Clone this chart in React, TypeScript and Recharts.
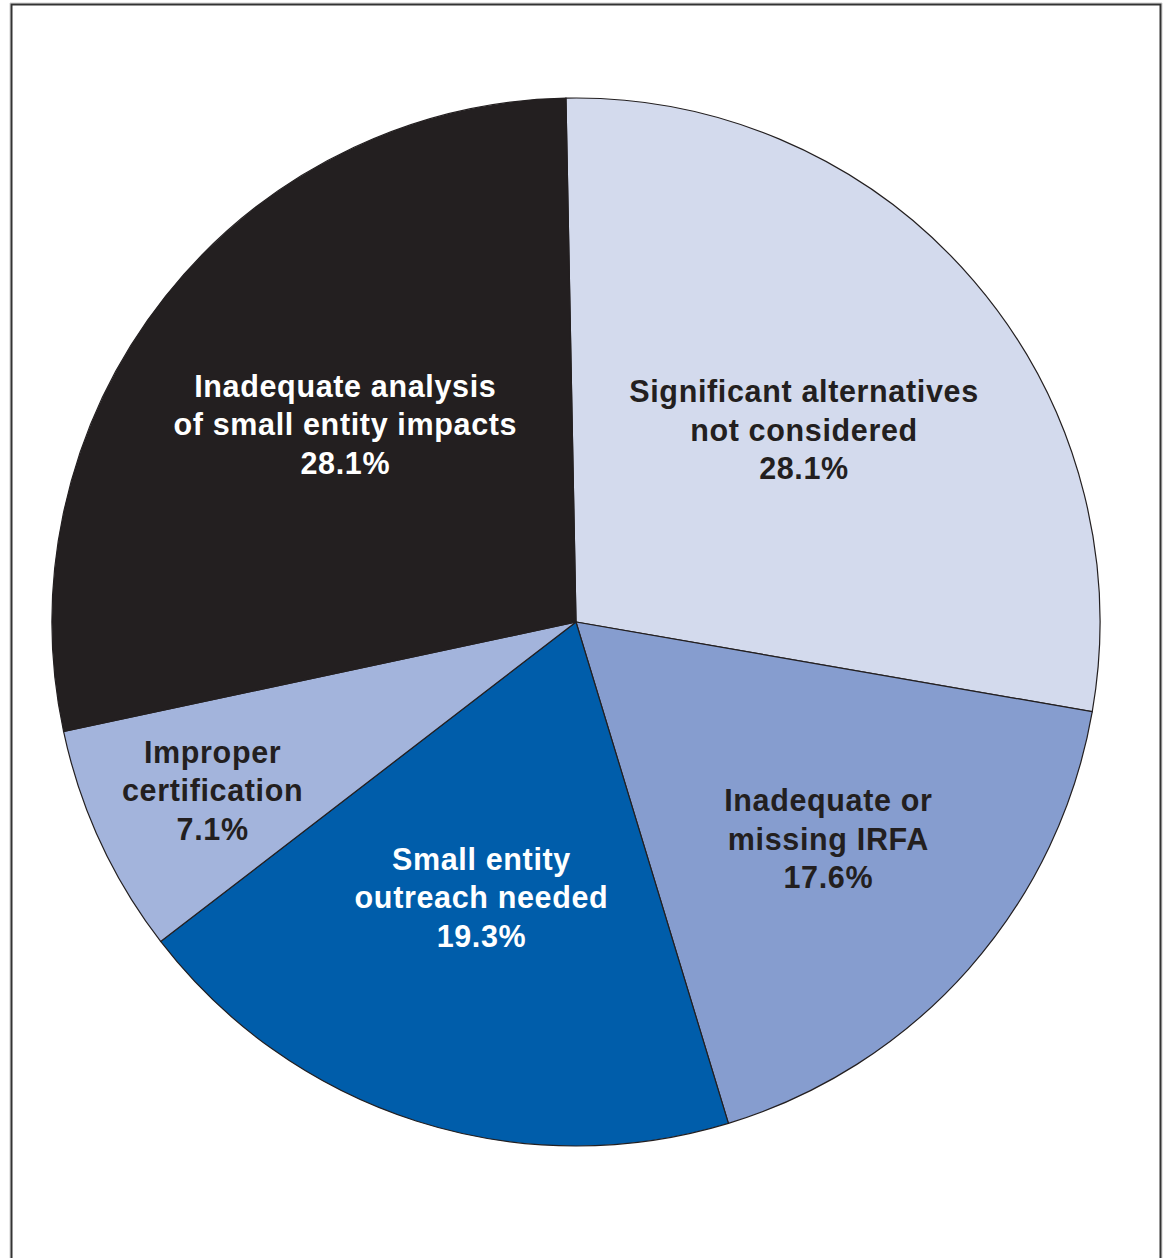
import React from "react";
import { PieChart, Pie, Cell } from "recharts";

const categories = [
  "Significant alternatives not considered",
  "Inadequate or missing IRFA",
  "Small entity outreach needed",
  "Improper certification",
  "Inadequate analysis of small entity impacts",
];
const values = [28.1, 17.6, 19.3, 7.1, 28.1];
const labelLines = [
  ["Significant alternatives", "not considered"],
  ["Inadequate or", "missing IRFA"],
  ["Small entity", "outreach needed"],
  ["Improper", "certification"],
  ["Inadequate analysis", "of small entity impacts"],
];

const colors = ["#D3DAED", "#869DCF", "#005DAA", "#A3B4DC", "#231F20"];
const textColors = ["#231F20", "#231F20", "#FFFFFF", "#231F20", "#FFFFFF"];
const labelRadiusFrac = [0.569, 0.635, 0.555, 0.764, 0.58];
const labelAngleShift = [-0.5, 0.8, -1.2, 0, -2.2];

const data = categories.map((name, i) => ({ name, value: values[i], idx: i }));

const RAD = Math.PI / 180;

const renderLabel = (props: any) => {
  const { cx, cy, outerRadius, midAngle, index } = props;
  const r = outerRadius * labelRadiusFrac[index];
  const a = (midAngle + labelAngleShift[index]) * RAD;
  const x = cx + r * Math.cos(a);
  const y = cy - r * Math.sin(a);
  const lines = [...labelLines[index], `${values[index]}%`];
  const lh = 38.5;
  return (
    <text
      x={x}
      y={y}
      textAnchor="middle"
      fill={textColors[index]}
      fontFamily="'Liberation Sans', Arial, sans-serif"
      fontWeight="bold"
      fontSize={30.5}
      letterSpacing={0.65}
    >
      {lines.map((l, i) => (
        <tspan key={i} x={x} y={y + (i - 1) * lh + 11}>
          {l}
        </tspan>
      ))}
    </text>
  );
};

export default function App() {
  return (
    <div style={{ position: "fixed", left: 0, top: 0, width: 1167, height: 1258, background: "#fff", overflow: "hidden" }}>
      <div style={{ position: "absolute", left: 0, top: 0 }}>
        <PieChart width={1167} height={1258} margin={{ top: 0, right: 0, bottom: 0, left: 0 }}>
          <Pie
            data={data}
            dataKey="value"
            nameKey="name"
            cx={576}
            cy={622}
            outerRadius={524}
            startAngle={91.1}
            endAngle={91.1 - 360}
            stroke="#231F20"
            strokeWidth={1.2}
            labelLine={false}
            label={renderLabel}
            isAnimationActive={false}
          >
            {data.map((d, i) => (
              <Cell key={i} fill={colors[i]} />
            ))}
          </Pie>
        </PieChart>
      </div>
      <svg
        width={1167}
        height={1258}
        style={{ position: "absolute", left: 0, top: 0, pointerEvents: "none" }}
      >
        <path d="M10,1260 V3 H1162 V1260" fill="none" stroke="#cfcfcf" strokeWidth={1} />
        <path d="M11.5,1260 V4.5 H1160.5 V1260" fill="none" stroke="#333" strokeWidth={2} />
      </svg>
    </div>
  );
}
